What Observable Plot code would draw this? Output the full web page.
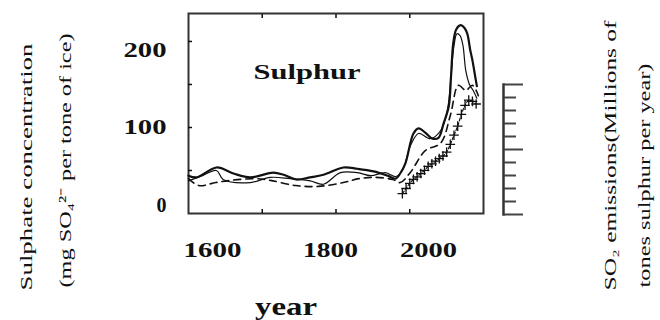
<!DOCTYPE html>
<html><head><meta charset="utf-8">
<script src="https://cdn.jsdelivr.net/npm/d3@7"></script>
<script src="https://cdn.jsdelivr.net/npm/@observablehq/plot@0.6"></script>
<style>
body{margin:0;background:#fff;}
#wrap{position:relative;width:660px;height:320px;background:#fff;}
#wrap svg{position:absolute;left:0;top:0;}
</style></head><body><div id="wrap"></div>
<script>
// ---- data ----
const yearsA = [1600,1611,1638,1661,1684,1715,1729,1746,1765,1783,1810,1829,1851,1870,1881,1887,1894,1905,1912,1921,1931,1939,1946,1953,1956,1959,1963,1969,1974,1978,1982,1985,1989,1991];
const sulphateA = [44,42,53.5,46.5,42,47.5,45,39.5,42,45,53.5,52,49,44,40.5,46.5,58,93,99,94,87,88,105,125,160,198,214,219,216,209,190,178,158,148];

const yearsB = [1600,1616,1638,1647,1684,1711,1738,1765,1783,1806,1829,1847,1867,1881,1890,1901,1912,1928,1942,1951,1956,1960,1964,1968,1972,1976,1981,1986,1991];
const sulphateB = [38,43,50,39.5,36,42,40.5,38,34,47.5,47.5,44,47.5,43,50,79,93,87,96.5,120,160,195,209,207,196,166,150,143,134];

const yearsC = [1600,1614,1637,1657,1691,1711,1745,1776,1810,1831,1854,1877,1887,1901,1921,1942,1955,1966,1976,1985,1993];
const sulphateC = [40.5,32.5,36,38.5,40.5,38.5,32.5,31.5,36,40.5,42,39.5,36,48,73,82,114,149,143,149,137];

const emissionYears = [1890,1895,1900,1905,1910,1915,1920,1925,1930,1935,1940,1945,1950,1955,1960,1965,1970,1975,1980,1985,1990];
const emissions = [16,20,24,27,29,31.5,34,37,39,41,43,45,48,54,61,68,77,84,88,87,85];

const xTickLabels = ["1600","1800","2000"];
const xTickLabelAt = [1632.5,1792.5,1925.4];
const yTickLabels = ["0","100","200"];
const yTickLabelAt = [9.3,100,189.5];
const frameTicksX = [1700,1800,1900];
const frameTicksY = [50,100,150,200];
const emissionMinor = [10,20,30,40,60,70,80,90];
const emissionMajor = [0,50,100];

const panelTitle = "Sulphur";
const xTitle = "year";
const leftTitle = ["Sulphate concentration","(mg SO₄²⁻ per tone of ice)"];
const rightTitle = ["SO₂ emissions(Millions of","tones sulphur per year)"];

// ---- rendering ----
const serif = "'Liberation Serif','Times New Roman',serif";
const ink = "#111";
const zip = (xs, ys) => xs.map((x, i) => ({year: x, value: ys[i]}));

const common = {
  width: 660, height: 320, marginLeft: 188, marginRight: 177,
  x: {domain: [1600, 2000], axis: null},
  style: {background: "transparent", fontFamily: serif, overflow: "visible", color: ink}
};

const main = Plot.plot({
  ...common,
  marginTop: 13, marginBottom: 107,
  y: {domain: [0, 232.5], axis: null},
  marks: [
    Plot.frame({stroke: "#333", strokeWidth: 2}),
    Plot.axisX(frameTicksX, {anchor: "bottom", tickSize: 4, dy: -4, tickFormat: () => "", label: null, strokeWidth: 1.5}),
    Plot.axisX(frameTicksX, {anchor: "top", tickSize: 4, dy: 4, tickFormat: () => "", label: null, strokeWidth: 1.5}),
    Plot.axisY(frameTicksY, {anchor: "left", tickSize: 4, dx: 4, tickFormat: () => "", label: null, strokeWidth: 1.5}),
    Plot.line(zip(yearsC, sulphateC), {x: "year", y: "value", stroke: ink, strokeWidth: 1.6, strokeDasharray: "7,5", curve: "catmull-rom"}),
    Plot.line(zip(yearsB, sulphateB), {x: "year", y: "value", stroke: ink, strokeWidth: 1.2, curve: "catmull-rom"}),
    Plot.line(zip(yearsA, sulphateA), {x: "year", y: "value", stroke: ink, strokeWidth: 2.2, curve: "catmull-rom"}),
    Plot.text(yTickLabels, {y: yTickLabelAt, text: d => d, frameAnchor: "left", textAnchor: "end", dx: -22, fontSize: 20, fontWeight: "bold", lineAnchor: "middle"}),
    Plot.text(xTickLabels, {x: xTickLabelAt, text: d => d, frameAnchor: "bottom", dy: 37, fontSize: 21, fontWeight: "bold", lineAnchor: "middle"}),
    Plot.text([panelTitle], {text: d => d, frameAnchor: "top-left", textAnchor: "start", dx: 65, dy: 58, fontSize: 22, fontWeight: "bold", lineAnchor: "middle"}),
    Plot.text([xTitle], {text: d => d, frameAnchor: "bottom", dx: -50, dy: 93, fontSize: 25, fontWeight: "bold", lineAnchor: "middle"}),
    Plot.text([leftTitle[0]], {text: d => d, frameAnchor: "bottom-left", rotate: -90, textAnchor: "start", dx: -162, dy: 77, fontSize: 17, lineAnchor: "middle"}),
    Plot.text([leftTitle[1]], {text: d => d, frameAnchor: "bottom-left", rotate: -90, textAnchor: "start", dx: -123, dy: 74, fontSize: 17, lineAnchor: "middle"}),
    Plot.text([rightTitle[0]], {text: d => d, frameAnchor: "bottom-right", rotate: -90, textAnchor: "start", dx: 127, dy: 77, fontSize: 17, lineAnchor: "middle"}),
    Plot.text([rightTitle[1]], {text: d => d, frameAnchor: "bottom-right", rotate: -90, textAnchor: "start", dx: 161, dy: 74, fontSize: 17, lineAnchor: "middle"})
  ]
});

const emissionData = zip(emissionYears, emissions);
const over = Plot.plot({
  ...common,
  marginTop: 84, marginBottom: 106,
  y: {domain: [0, 100], axis: null},
  marks: [
    Plot.frame({anchor: "right", dx: 20, stroke: "#333", strokeWidth: 2.5}),
    Plot.axisY(emissionMinor, {anchor: "right", tickSize: 12, dx: 20, tickFormat: () => "", label: null, strokeWidth: 2, stroke: "#444"}),
    Plot.axisY(emissionMajor, {anchor: "right", tickSize: 19, dx: 20, tickFormat: () => "", label: null, strokeWidth: 2, stroke: "#444"}),
    Plot.line(emissionData, {x: "year", y: "value", stroke: ink, strokeWidth: 1.2, strokeDasharray: "3,2", curve: "catmull-rom"}),
    Plot.dot(emissionData, {x: "year", y: "value", symbol: "plus", r: 3.2, stroke: ink, strokeWidth: 1.3})
  ]
});

// horizontal stretch of the scanned lettering
const textLengths = {
  "1600": 58, "1800": 55, "2000": 57, "100": 43, "200": 43,
  "Sulphur": 107, "year": 62,
  "Sulphate concentration": 247, "(mg SO₄²⁻ per tone of ice)": 254,
  "SO₂ emissions(Millions of": 270, "tones sulphur per year)": 224
};
const wrap = document.getElementById("wrap");
wrap.append(main, over);
for (const svg of [main, over]) {
  d3.select(svg).selectAll("text").each(function () {
    const L = textLengths[this.textContent];
    if (L) { this.setAttribute("textLength", L); this.setAttribute("lengthAdjust", "spacingAndGlyphs"); }
  });
}
</script></body></html>
